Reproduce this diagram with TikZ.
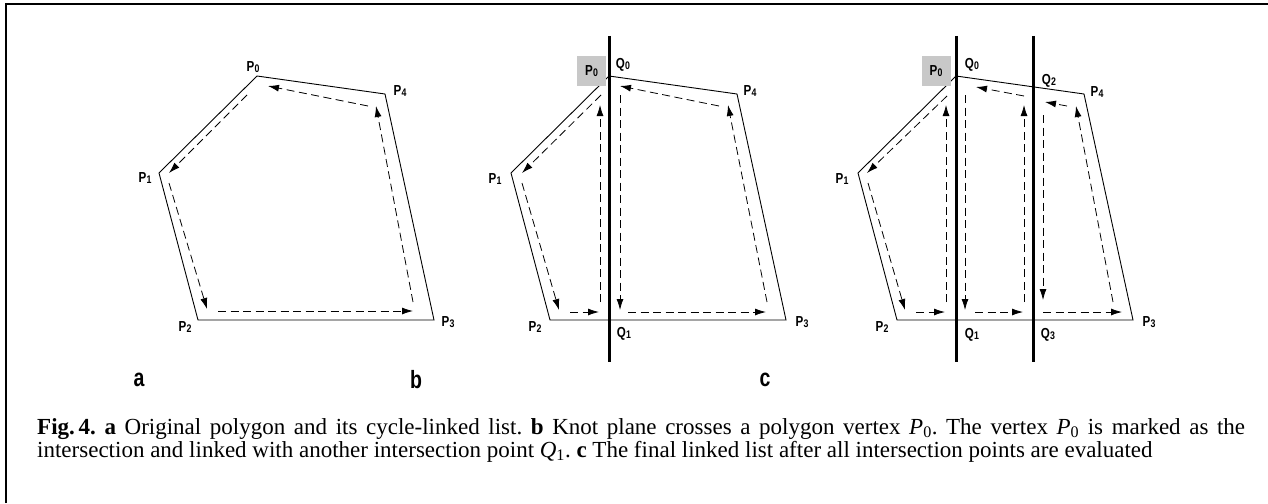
\documentclass[tikz,border=0pt]{standalone}
\usepackage{fontspec}
\setmainfont{Liberation Serif}
\setsansfont{Liberation Sans}
\usetikzlibrary{arrows.meta,calc}
\definecolor{boxgray}{RGB}{200,200,200}
\tikzset{
    edge/.style={line width=0.9pt, black},
    knot/.style={line width=3pt, black},
    linkarrow/.style={
        line width=0.8pt,
        dash pattern=on 8pt off 4.5pt,
        -{Latex[length=11pt, width=7pt]}
    },
    vlabel/.style={font=\sffamily\bfseries\fontsize{14.5}{14.5}\selectfont, inner sep=0pt},
    marked/.style={vlabel, fill=boxgray, minimum width=29pt, minimum height=30pt},
    panel/.style={font=\sffamily\bfseries\fontsize{25}{25}\selectfont, inner sep=0pt},
    caption/.style={font=\fontsize{23}{23}\selectfont\frenchspacing, inner sep=0pt, anchor=base west}
}
\newcommand{\vtx}[2]{\scalebox{0.8}[1]{#1\kern0.3pt\raisebox{-1pt}{\fontsize{11}{11}\selectfont #2}}}
\newcommand{\tag}[1]{\scalebox{0.78}[1]{#1}}

\begin{document}
\begin{tikzpicture}[x=1pt, y=-1pt]
    \useasboundingbox (0,0) rectangle (1268,503);
    \draw[line width=2pt] (6,503) -- (6,4) -- (1268,4);

    % a: polygon and its cycle-linked list
    \begin{scope}
    \path (257,76) coordinate (a0) (159,173) coordinate (a1) (198,320) coordinate (a2)
          (434,320) coordinate (a3) (385,94) coordinate (a4);
    \draw[edge] (a0) -- (a1) -- (a2) -- (a3) -- (a4) -- cycle;
    \foreach \sx/\sy/\ex/\ey [count=\i] in {368/106/268/86, 247/95/169/173,
        169/183/207/309, 218/311/413/311, 413/302/376/106} {
        \path (\sx,\sy) coordinate (as\i) (\ex,\ey) coordinate (ae\i);
        \draw[linkarrow] (as\i) -- (ae\i);
    }
    \node[vlabel] (la0) at (253,67) {\vtx{P}{0}};
    \node[vlabel] (la1) at (145,178) {\vtx{P}{1}};
    \node[vlabel] (la2) at (185,327) {\vtx{P}{2}};
    \node[vlabel] (la3) at (448,322) {\vtx{P}{3}};
    \node[vlabel] (la4) at (400,91) {\vtx{P}{4}};
    \end{scope}

    % b: knot plane through P0
    \begin{scope}[xshift=352pt]
    \path (257,76) coordinate (b0) (159,173) coordinate (b1) (198,320) coordinate (b2)
          (434,320) coordinate (b3) (385,94) coordinate (b4)
          (257,36) coordinate (bk1) (257,362) coordinate (bk2);
    \draw[edge] (b0) -- (b1) -- (b2) -- (b3) -- (b4) -- cycle;
    \draw[knot] (bk1) -- (bk2);
    \foreach \sx/\sy/\ex/\ey [count=\i] in {367/106/268/86, 268/95/268/310,
        276/312/414/312, 415/302/376/105, 249/95/170/173, 170/183/207/310,
        218/312/247/312, 248/302/248/105} {
        \path (\sx,\sy) coordinate (bs\i) (\ex,\ey) coordinate (be\i);
        \draw[linkarrow] (bs\i) -- (be\i);
    }
    \node[marked] (lb0) at (239.5,71) {\vtx{P}{0}};
    \node[vlabel] (lb1) at (143,179) {\vtx{P}{1}};
    \node[vlabel] (lb2) at (183,327) {\vtx{P}{2}};
    \node[vlabel] (lb3) at (450,322) {\vtx{P}{3}};
    \node[vlabel] (lb4) at (398,91) {\vtx{P}{4}};
    \node[vlabel] (lbq0) at (271,65) {\vtx{Q}{0}};
    \node[vlabel] (lbq1) at (272,334) {\vtx{Q}{1}};
    \end{scope}

    % c: all intersection points evaluated
    \begin{scope}[xshift=699pt]
    \path (257,76) coordinate (c0) (159,173) coordinate (c1) (198,320) coordinate (c2)
          (434,320) coordinate (c3) (385,94) coordinate (c4)
          (257,36) coordinate (ck1) (257,362) coordinate (ck2)
          (334,36) coordinate (ck3) (334,362) coordinate (ck4);
    \draw[edge] (c0) -- (c1) -- (c2) -- (c3) -- (c4) -- cycle;
    \draw[knot] (ck1) -- (ck2);
    \draw[knot] (ck3) -- (ck4);
    \foreach \sx/\sy/\ex/\ey [count=\i] in {248/96/168/173, 169/183/206/310,
        217/312/246/312, 247/302/247/105, 325/96/277/87, 266/95/266/310,
        276/312/324/312, 325/302/325/105, 368/106/346/102, 344/115/344/300,
        344/312/423/312, 414/302/377/106} {
        \path (\sx,\sy) coordinate (cs\i) (\ex,\ey) coordinate (ce\i);
        \draw[linkarrow] (cs\i) -- (ce\i);
    }
    \node[marked] (lc0) at (237,71) {\vtx{P}{0}};
    \node[vlabel] (lc1) at (143,179) {\vtx{P}{1}};
    \node[vlabel] (lc2) at (183,327) {\vtx{P}{2}};
    \node[vlabel] (lc3) at (450,322) {\vtx{P}{3}};
    \node[vlabel] (lc4) at (398,92) {\vtx{P}{4}};
    \node[vlabel] (lcq0) at (273,65) {\vtx{Q}{0}};
    \node[vlabel] (lcq1) at (273,335) {\vtx{Q}{1}};
    \node[vlabel] (lcq2) at (350,81) {\vtx{Q}{2}};
    \node[vlabel] (lcq3) at (349,335) {\vtx{Q}{3}};
    \end{scope}

    \node[panel] (pa) at (139,380) {\tag{a}};
    \node[panel] (pb) at (416,380) {\tag{b}};
    \node[panel] (pc) at (765,380) {\tag{c}};

    \node[caption] (cap1) at (37,434) {\makebox[1208pt][s]{\textbf{Fig.\,4.} \textbf{a} Original polygon and its cycle-linked list. \textbf{b} Knot plane crosses a polygon vertex \textit{P}\textsubscript{0}. The vertex \textit{P}\textsubscript{0} is marked as the}};
    \node[caption] (cap2) at (37,457) {intersection and linked with another intersection point \textit{Q}\textsubscript{1}. \textbf{c} The final linked list after all intersection points are evaluated};
\end{tikzpicture}
\end{document}
